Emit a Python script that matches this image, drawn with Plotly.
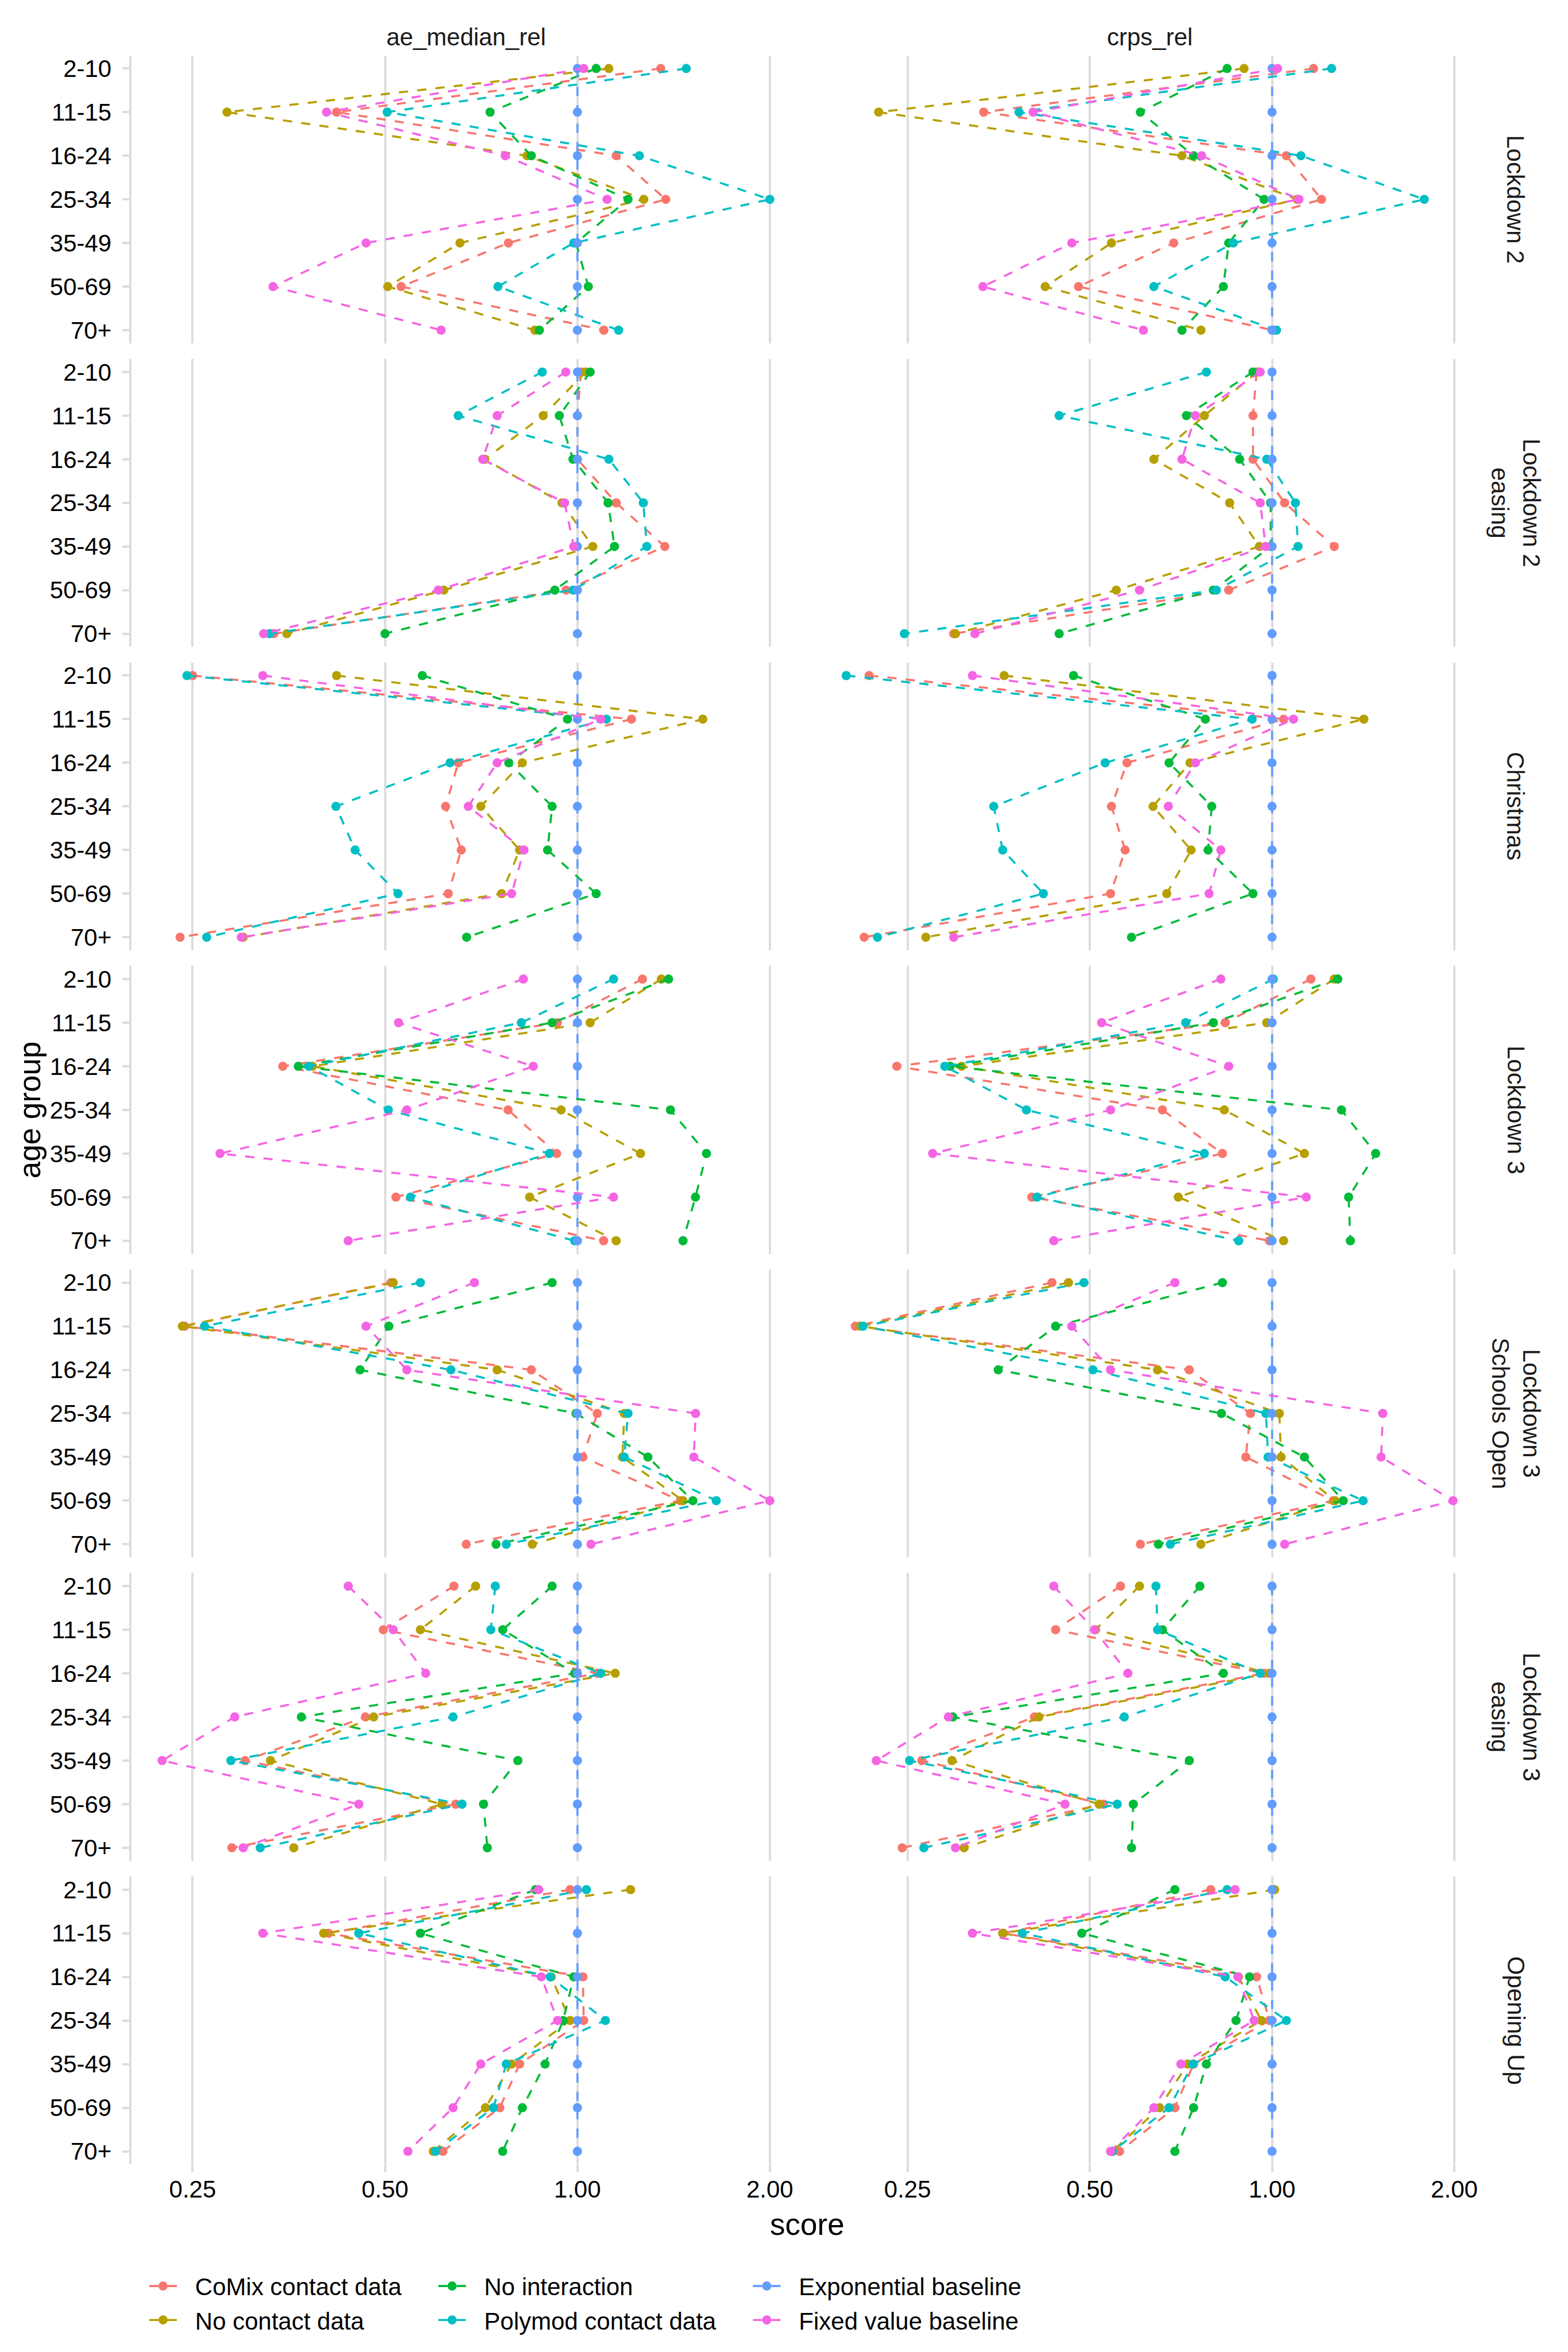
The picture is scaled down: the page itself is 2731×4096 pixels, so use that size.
import math
import plotly.graph_objects as go

# ---------------- data ----------------
AGE_GROUPS = ["2-10", "11-15", "16-24", "25-34", "35-49", "50-69", "70+"]
METRICS = ["ae_median_rel", "crps_rel"]
PERIODS = ["Lockdown 2", "Lockdown 2\neasing", "Christmas", "Lockdown 3",
           "Lockdown 3\nSchools Open", "Lockdown 3\neasing", "Opening Up"]
MODELS = ["CoMix contact data", "No contact data", "No interaction",
          "Polymod contact data", "Exponential baseline", "Fixed value baseline"]
COLORS = ["#F8766D", "#B79F00", "#00BA38", "#00BFC4", "#619CFF", "#F564E3"]
X_TICKS = [0.25, 0.5, 1.0, 2.0]
X_TICK_TEXT = ["0.25", "0.50", "1.00", "2.00"]

exponential = [1.00, 1.00, 1.00, 1.00, 1.00, 1.00, 1.00]

# values per model, age groups in AGE_GROUPS order
lockdown2_ae = {
    "CoMix contact data":   [1.35, 0.42, 1.15, 1.375, 0.78, 0.53, 1.10],
    "No contact data":      [1.12, 0.283, 0.834, 1.27, 0.655, 0.505, 0.858],
    "No interaction":       [1.07, 0.73, 0.847, 1.20, 0.995, 1.04, 0.872],
    "Polymod contact data": [1.48, 0.504, 1.25, 2.0, 0.987, 0.751, 1.16],
    "Fixed value baseline": [1.023, 0.405, 0.771, 1.113, 0.467, 0.334, 0.612],
}
lockdown2_crps = {
    "CoMix contact data":   [1.171, 0.334, 1.056, 1.207, 0.688, 0.479, 1.003],
    "No contact data":      [0.899, 0.224, 0.71, 1.10, 0.543, 0.422, 0.763],
    "No interaction":       [0.843, 0.606, 0.742, 0.97, 0.848, 0.831, 0.71],
    "Polymod contact data": [1.254, 0.382, 1.116, 1.784, 0.863, 0.638, 1.017],
    "Fixed value baseline": [1.021, 0.403, 0.765, 1.108, 0.467, 0.333, 0.613],
}
lockdown2_easing_ae = {
    "CoMix contact data":   [1.013, 1.0, 1.0, 1.15, 1.37, 0.96, 0.335],
    "No contact data":      [1.03, 0.884, 0.716, 0.946, 1.057, 0.618, 0.351],
    "No interaction":       [1.047, 0.937, 0.984, 1.117, 1.143, 0.922, 0.50],
    "Polymod contact data": [0.881, 0.651, 1.12, 1.268, 1.284, 0.985, 0.33],
    "Fixed value baseline": [0.959, 0.749, 0.711, 0.955, 0.987, 0.606, 0.323],
}
lockdown2_easing_crps = {
    "CoMix contact data":   [0.943, 0.93, 0.93, 1.049, 1.267, 0.848, 0.298],
    "No contact data":      [0.945, 0.773, 0.638, 0.851, 0.953, 0.553, 0.30],
    "No interaction":       [0.93, 0.722, 0.884, 0.995, 0.995, 0.80, 0.445],
    "Polymod contact data": [0.779, 0.445, 0.98, 1.093, 1.104, 0.809, 0.247],
    "Fixed value baseline": [0.956, 0.747, 0.71, 0.956, 0.976, 0.604, 0.323],
}
christmas_ae = {
    "CoMix contact data":   [0.25, 1.215, 0.651, 0.622, 0.658, 0.628, 0.239],
    "No contact data":      [0.42, 1.571, 0.82, 0.706, 0.812, 0.761, 0.30],
    "No interaction":       [0.572, 0.965, 0.781, 0.913, 0.898, 1.07, 0.671],
    "Polymod contact data": [0.245, 1.11, 0.632, 0.419, 0.449, 0.524, 0.263],
    "Fixed value baseline": [0.322, 1.088, 0.749, 0.675, 0.825, 0.789, 0.298],
}
christmas_crps = {
    "CoMix contact data":   [0.216, 1.045, 0.576, 0.543, 0.572, 0.541, 0.212],
    "No contact data":      [0.361, 1.418, 0.732, 0.636, 0.735, 0.67, 0.268],
    "No interaction":       [0.47, 0.776, 0.676, 0.795, 0.784, 0.93, 0.586],
    "Polymod contact data": [0.198, 0.927, 0.53, 0.347, 0.359, 0.419, 0.223],
    "Fixed value baseline": [0.32, 1.085, 0.747, 0.674, 0.823, 0.787, 0.298],
}
lockdown3_ae = {
    "CoMix contact data":   [1.264, 0.93, 0.346, 0.779, 0.928, 0.52, 1.099],
    "No contact data":      [1.353, 1.047, 0.385, 0.943, 1.255, 0.842, 1.15],
    "No interaction":       [1.389, 0.913, 0.366, 1.398, 1.592, 1.53, 1.463],
    "Polymod contact data": [1.139, 0.817, 0.38, 0.506, 0.904, 0.548, 0.99],
    "Fixed value baseline": [0.823, 0.525, 0.853, 0.541, 0.276, 1.139, 0.438],
}
lockdown3_crps = {
    "CoMix contact data":   [1.159, 0.837, 0.24, 0.659, 0.828, 0.401, 0.99],
    "No contact data":      [1.267, 0.98, 0.307, 0.834, 1.131, 0.70, 1.045],
    "No interaction":       [1.284, 0.80, 0.294, 1.302, 1.483, 1.338, 1.347],
    "Polymod contact data": [1.005, 0.72, 0.288, 0.393, 0.773, 0.409, 0.881],
    "Fixed value baseline": [0.823, 0.523, 0.848, 0.541, 0.275, 1.139, 0.436],
}
schools_open_ae = {
    "CoMix contact data":   [0.511, 0.243, 0.847, 1.074, 1.02, 1.448, 0.67],
    "No contact data":      [0.515, 0.241, 0.749, 1.184, 1.176, 1.463, 0.85],
    "No interaction":       [0.913, 0.507, 0.457, 0.995, 1.289, 1.516, 0.746],
    "Polymod contact data": [0.568, 0.261, 0.634, 1.2, 1.184, 1.649, 0.774],
    "Fixed value baseline": [0.69, 0.467, 0.541, 1.531, 1.521, 2.0, 1.05],
}
schools_open_crps = {
    "CoMix contact data":   [0.433, 0.205, 0.73, 0.921, 0.905, 1.262, 0.606],
    "No contact data":      [0.461, 0.209, 0.647, 1.028, 1.035, 1.271, 0.763],
    "No interaction":       [0.828, 0.439, 0.353, 0.825, 1.131, 1.311, 0.649],
    "Polymod contact data": [0.489, 0.211, 0.506, 0.977, 0.985, 1.414, 0.679],
    "Fixed value baseline": [0.691, 0.467, 0.541, 1.524, 1.514, 1.99, 1.049],
}
lockdown3_easing_ae = {
    "CoMix contact data":   [0.641, 0.497, 1.074, 0.466, 0.302, 0.645, 0.288],
    "No contact data":      [0.693, 0.568, 1.146, 0.48, 0.331, 0.614, 0.36],
    "No interaction":       [0.913, 0.764, 0.99, 0.37, 0.807, 0.713, 0.723],
    "Polymod contact data": [0.744, 0.732, 1.088, 0.639, 0.287, 0.66, 0.319],
    "Fixed value baseline": [0.438, 0.515, 0.579, 0.291, 0.224, 0.455, 0.30],
}
lockdown3_easing_crps = {
    "CoMix contact data":   [0.562, 0.439, 0.97, 0.405, 0.264, 0.527, 0.245],
    "No contact data":      [0.604, 0.511, 0.99, 0.412, 0.296, 0.518, 0.31],
    "No interaction":       [0.76, 0.659, 0.831, 0.297, 0.73, 0.59, 0.586],
    "Polymod contact data": [0.643, 0.647, 0.956, 0.57, 0.252, 0.555, 0.266],
    "Fixed value baseline": [0.436, 0.509, 0.578, 0.292, 0.222, 0.455, 0.30],
}
opening_up_ae = {
    "CoMix contact data":   [0.974, 0.408, 1.02, 1.023, 0.812, 0.756, 0.616],
    "No contact data":      [1.211, 0.401, 0.91, 0.974, 0.789, 0.718, 0.595],
    "No interaction":       [0.86, 0.568, 0.987, 0.95, 0.89, 0.82, 0.764],
    "Polymod contact data": [1.033, 0.455, 0.907, 1.106, 0.774, 0.739, 0.60],
    "Fixed value baseline": [0.87, 0.322, 0.878, 0.931, 0.706, 0.639, 0.543],
}
opening_up_crps = {
    "CoMix contact data":   [0.792, 0.36, 0.943, 0.99, 0.742, 0.691, 0.56],
    "No contact data":      [1.01, 0.359, 0.88, 0.96, 0.725, 0.652, 0.545],
    "No interaction":       [0.691, 0.485, 0.918, 0.872, 0.779, 0.742, 0.691],
    "Polymod contact data": [0.843, 0.387, 0.837, 1.056, 0.74, 0.676, 0.545],
    "Fixed value baseline": [0.869, 0.32, 0.878, 0.934, 0.707, 0.638, 0.541],
}

PANEL_DATA = [
    [lockdown2_ae, lockdown2_crps],
    [lockdown2_easing_ae, lockdown2_easing_crps],
    [christmas_ae, christmas_crps],
    [lockdown3_ae, lockdown3_crps],
    [schools_open_ae, schools_open_crps],
    [lockdown3_easing_ae, lockdown3_easing_crps],
    [opening_up_ae, opening_up_crps],
]

# ---------------- layout geometry ----------------
W, H = 2731, 4096
S = W / 3000.0
REF_W, REF_H = 3000.0, 4500.0
COL_PX = [(252, 1531), (1561, 2838)]
ROW_TOP, ROW_H, ROW_STEP = 105, 551, 581

FONT = "Liberation Sans, Arial, Helvetica, sans-serif"
GRID = "#DDDDDD"
LW = 3.6
TICK_FS = 42
TITLE_FS = 53
LEG_ITEMW = 48
LEG_PAD = "\u00a0\u00a0\u200a"   # gap between legend key and its label


def series(panel, model):
    if model == "Exponential baseline":
        return exponential
    return panel[model]


# per-column ranges (log10), ggplot-style 5% expansion
col_ranges = []
for c in range(2):
    vals = []
    for r in range(7):
        for m in MODELS:
            vals.extend(series(PANEL_DATA[r][c], m))
    lo, hi = math.log10(min(vals)), math.log10(max(vals))
    pad = 0.05 * (hi - lo)
    col_ranges.append([lo - pad, hi + pad])

fig = go.Figure()
layout = dict(
    width=W, height=H, margin=dict(l=0, r=0, t=0, b=0),
    paper_bgcolor="white", plot_bgcolor="white",
    font=dict(family=FONT, color="black", size=TICK_FS),
    showlegend=True,
)

legend_names = ["legend", "legend2", "legend3", "legend4", "legend5", "legend6"]

for r in range(7):
    for c in range(2):
        p = r * 2 + c + 1
        xa = "x" if p == 1 else f"x{p}"
        ya = "y" if p == 1 else f"y{p}"
        x0, x1 = COL_PX[c]
        top = ROW_TOP + r * ROW_STEP
        bot = top + ROW_H
        xdom = [x0 / REF_W, x1 / REF_W]
        ydom = [1 - bot / REF_H, 1 - top / REF_H]
        bottom_row = (r == 6)
        xkey = "xaxis" if p == 1 else f"xaxis{p}"
        ykey = "yaxis" if p == 1 else f"yaxis{p}"
        layout[xkey] = dict(
            domain=xdom, anchor=ya, type="log", range=col_ranges[c],
            tickvals=X_TICKS, ticktext=X_TICK_TEXT,
            showgrid=True, gridcolor=GRID, gridwidth=LW, zeroline=False,
            showline=False,
            showticklabels=bottom_row,
            ticks="outside" if bottom_row else "",
            ticklen=13, tickwidth=LW, tickcolor=GRID,
            ticklabelstandoff=-7,
            tickfont=dict(size=TICK_FS, color="black", family=FONT),
        )
        layout[ykey] = dict(
            domain=ydom, anchor=xa, type="category",
            categoryorder="array", categoryarray=AGE_GROUPS,
            range=[6.3, -0.3], showgrid=False, zeroline=False,
            showline=(c == 0), linecolor=GRID, linewidth=LW,
            showticklabels=(c == 0),
            ticks="outside" if c == 0 else "",
            ticklen=13, tickwidth=LW, tickcolor=GRID,
            ticklabelstandoff=10,
            tickfont=dict(size=TICK_FS, color="black", family=FONT),
        )
        panel = PANEL_DATA[r][c]
        for k, m in enumerate(MODELS):
            fig.add_trace(go.Scatter(
                x=series(panel, m), y=AGE_GROUPS, mode="lines+markers",
                name=m, xaxis=xa, yaxis=ya,
                line=dict(color=COLORS[k], width=LW, dash="16px,16px"),
                marker=dict(color=COLORS[k], size=16, line=dict(width=0)),
                showlegend=(p == 1), legend=legend_names[k],
                legendgroup=m, legendrank=k,
                hoverinfo="x+y+name",
            ))

# legend labels get a small leading gap like ggplot's key/label spacing
for tr in fig.data:
    if tr.showlegend:
        tr.update(name=LEG_PAD + tr.name)

# legends: ggplot arranges 2 rows x 3 columns (column-wise fill)
LEG_X = [312, 312, 865, 865, 1467, 1467]     # key centre, reference px
LEG_Y = [4375, 4440, 4375, 4440, 4375, 4440]
for k, ln in enumerate(legend_names):
    x_px = LEG_X[k] * S - (LEG_ITEMW + 10) / 2.0
    layout[ln] = dict(
        x=x_px / W, y=1 - LEG_Y[k] / REF_H,
        xanchor="left", yanchor="middle", orientation="v",
        bgcolor="rgba(0,0,0,0)", borderwidth=0,
        font=dict(size=TICK_FS, family=FONT, color="black"),
        itemwidth=LEG_ITEMW, itemsizing="trace",
    )

ann = []
for c, m in enumerate(METRICS):
    x0, x1 = COL_PX[c]
    ann.append(dict(text=m, x=(x0 + x1) / 2 / REF_W, y=1 - 70 / REF_H,
                    xref="paper", yref="paper", showarrow=False,
                    xanchor="center", yanchor="middle",
                    font=dict(size=TICK_FS, family=FONT, color="#1A1A1A")))
for r, per in enumerate(PERIODS):
    top = ROW_TOP + r * ROW_STEP
    ann.append(dict(text=per.replace("\n", "<br>"), x=2900 / REF_W,
                    y=1 - (top + ROW_H / 2) / REF_H,
                    xref="paper", yref="paper", showarrow=False,
                    xanchor="center", yanchor="middle", textangle=90,
                    font=dict(size=TICK_FS, family=FONT, color="#1A1A1A")))
ann.append(dict(text="score", x=1545 / REF_W, y=1 - 4257 / REF_H,
                xref="paper", yref="paper", showarrow=False,
                xanchor="center", yanchor="middle",
                font=dict(size=TITLE_FS, family=FONT, color="black")))
ann.append(dict(text="age group", x=57 / REF_W, y=1 - 2123 / REF_H,
                xref="paper", yref="paper", showarrow=False,
                xanchor="center", yanchor="middle", textangle=-90,
                font=dict(size=TITLE_FS, family=FONT, color="black")))
layout["annotations"] = ann

fig.update_layout(**layout)
fig.write_html("out.html")
